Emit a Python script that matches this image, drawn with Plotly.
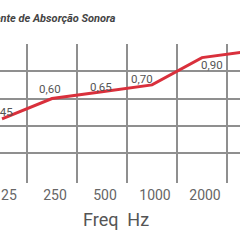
import plotly.graph_objects as go

freqs = ["125", "250", "500", "1000", "2000", "4000"]
values = [0.45, 0.60, 0.65, 0.70, 0.90, 0.95]
value_labels = ["0,45", "0,60", "0,65", "0,70", "0,90", "0,95"]
label_xshift = [0, -2, -1, -10, 10, 0]
label_yshift = [7, 10, 5, 6, -7, 8]
y_ticks = [0.2, 0.4, 0.6, 0.8, 1.0]

fig = go.Figure()
fig.add_trace(go.Scatter(
    x=freqs, y=values, mode="lines",
    line=dict(color="#d9303c", width=3),
    hoverinfo="skip", showlegend=False,
))

for i, (v, t, dx, dy) in enumerate(zip(values, value_labels, label_xshift, label_yshift)):
    fig.add_annotation(x=i, y=v, text=t, showarrow=False, xshift=dx, yshift=dy,
                       font=dict(family="Roboto", size=11.5, color="#555555"))

fig.add_annotation(xref="paper", yref="paper", x=118/240, y=1 + 25.5/138.7,
                   xanchor="right", yanchor="middle", showarrow=False,
                   text="<i>Coeficiente de Absorção Sonora</i>",
                   font=dict(family="Roboto", size=11, color="#444444", weight=700))

fig.add_annotation(xref="paper", yref="paper", x=115.5/240, y=-(219 - 182.7)/138.7,
                   xanchor="center", yanchor="middle", showarrow=False,
                   text="Freq  Hz",
                   font=dict(family="Roboto", size=18, color="#555555"))

fig.update_layout(
    width=240, height=240,
    margin=dict(l=0, r=0, t=44, b=57, autoexpand=False),
    paper_bgcolor="white", plot_bgcolor="white",
    xaxis=dict(type="category", range=[-0.04, 4.76], tickson="boundaries",
               showgrid=True, gridcolor="#8f8f8f", gridwidth=1.6,
               ticks="", showline=False, zeroline=False, automargin=False,
               ticklabelshift=3, ticklabelstandoff=2,
               tickfont=dict(family="Roboto", size=14, color="#666666")),
    yaxis=dict(range=[-0.02, 1.0], tickvals=y_ticks, showticklabels=False,
               showgrid=True, gridcolor="#8f8f8f", gridwidth=1.6,
               zeroline=False, showline=False, automargin=False),
)

fig.write_html("out.html")
